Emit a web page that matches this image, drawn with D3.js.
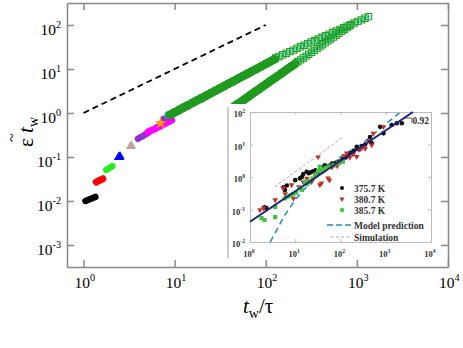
<!DOCTYPE html>
<html>
<head>
<meta charset="utf-8">
<script src="https://cdn.jsdelivr.net/npm/d3@7"></script>
<style>
   body { margin: 0; background: #fff; }
   svg { display: block; }
   text { font-family: "Liberation Serif", "Times New Roman", serif; }
</style>
</head>
<body>
<div id="chart"></div>
<script>
// main panel: t_w / tau against strain rate * t_w
let xTicks = [1, 10, 100, 1000, 10000];
let xTickExp = ["0", "1", "2", "3", "4"];
let yTicks = [1e-3, 1e-2, 1e-1, 1, 10, 100];
let yTickExp = ["-3", "-2", "-1", "0", "1", "2"];

let guideT = [1, 100];
let guideE = [1, 100];

let blackT = [1.05, 1.1, 1.15, 1.2, 1.25, 1.3, 1.35];
let blackE = [0.0100, 0.0104, 0.0108, 0.0112, 0.0116, 0.0120, 0.0124];
let redT = [1.38, 1.43, 1.48, 1.53, 1.58, 1.63];
let redE = [0.027, 0.028, 0.029, 0.030, 0.031, 0.032];
let limeT = [1.78, 1.85, 1.92, 2.0, 2.07];
let limeE = [0.051, 0.054, 0.056, 0.059, 0.062];
let blueT = [2.42, 2.48, 2.52];
let blueE = [0.098, 0.100, 0.102];
let tanT = [3.3, 3.35];
let tanE = [0.176, 0.180];
let violetT = [3.96, 4.2, 4.5, 4.8, 5.1, 7.6];
let violetE = [0.26, 0.28, 0.30, 0.33, 0.35, 0.73];
let magentaT = [5.1, 5.5, 6, 6.5, 7, 7.5, 8, 8.5, 9.3];
let magentaE = [0.37, 0.40, 0.43, 0.47, 0.51, 0.55, 0.59, 0.63, 0.69];
let orangeT = [7.0];
let orangeE = [0.59];
let cyanT = [8.4];
let cyanE = [0.9];

// green runs: filled part then open squares
let upFillT = [8.8, 9.9, 11.1, 12.4, 14.0, 15.7, 17.6, 19.8, 22.2, 24.9, 27.9, 31.3, 35.1, 39.4, 44.2, 49.6, 55.7, 62.5, 70.1, 78.7, 88.3, 99.0, 111, 125];
let upFillE = [0.90, 1.02, 1.16, 1.32, 1.49, 1.70, 1.92, 2.18, 2.48, 2.81, 3.19, 3.62, 4.11, 4.67, 5.30, 6.02, 6.83, 7.75, 8.80, 9.98, 11.3, 12.9, 14.6, 16.6];
let upOpenT = [128, 140, 153, 168, 184, 201, 220, 241, 264, 289, 316, 346, 379, 415, 454, 497, 544, 596, 652, 714, 781, 855, 936, 1025, 1122, 1228, 1345];
let upOpenE = [17.8, 19.3, 21.0, 22.9, 24.8, 26.9, 29.3, 31.9, 34.7, 37.7, 40.9, 44.4, 48.3, 52.5, 57.0, 62.0, 67.4, 73.3, 79.6, 86.5, 94.0, 102, 111, 120.7, 131, 142.6, 155];
let lowFillT = [45, 49, 53, 58.1, 63.7, 69.8, 76.5, 83.9, 92.0, 100.8, 110.5, 121.2, 132.9, 145.7, 159.7, 175.1, 192, 210.5];
let lowFillE = [1.41, 1.60, 1.78, 2.03, 2.32, 2.66, 3.04, 3.47, 3.97, 4.53, 5.18, 5.92, 6.77, 7.73, 8.84, 10.1, 11.5, 13.2];
let lowOpenT = [225, 241, 258, 277, 296, 318, 340, 365, 391, 419, 449, 481, 515, 552, 592, 634, 679, 728, 780, 836];
let lowOpenE = [14.6, 16.1, 17.8, 19.6, 21.7, 24.0, 26.5, 29.2, 32.3, 35.7, 39.4, 43.5, 48.1, 53.1, 58.7, 64.8, 71.6, 79.1, 87.3, 96.5];

// inset: experiments
let insetXTicks = [1, 10, 100, 1000, 10000];
let insetXExp = ["0", "1", "2", "3", "4"];
let insetYTicks = [0.01, 0.1, 1, 10, 100];
let insetYExp = ["-2", "-1", "0", "1", "2"];

let k375T = [2.1, 2.3, 5.5, 5.9, 6.5, 10, 12.7, 14, 15, 17.9, 20, 22, 25, 28, 32, 36, 40, 45, 55, 65, 75, 90, 110, 130, 150, 170, 200, 228, 260, 300, 350, 450, 490, 750, 890, 1350, 1750, 2270];
let k375E = [0.117, 0.11, 0.48, 0.4, 0.55, 0.8, 0.91, 1.0, 1.24, 1.45, 1.3, 1.4, 1.5, 1.6, 1.4, 1.8, 2.0, 2.3, 2.2, 2.6, 2.6, 3.0, 3.5, 4.0, 4.8, 5.5, 6.5, 8.5, 7.0, 9.0, 10, 17, 11, 35, 22, 40, 45, 45];
let k380T = [1.66, 2.0, 3.6, 5.4, 6, 8.3, 9.1, 12, 15, 18, 23, 28, 32, 35, 38, 40, 45, 53, 57, 65, 75, 85, 100, 120, 137, 160, 190, 228, 260, 300, 350, 420, 490, 530, 890];
let k380E = [0.097, 0.11, 0.196, 0.46, 0.3, 0.57, 0.22, 0.5, 0.7, 0.9, 0.72, 1.1, 4.1, 0.57, 0.65, 1.5, 1.7, 0.93, 0.8, 2.0, 2.4, 2.2, 3.0, 4.5, 5.4, 4.0, 5.0, 4.2, 7.0, 8.0, 7.5, 13, 9.6, 22, 35];
let k385T = [1.8, 2.1, 3.6, 3.6, 5.9, 6.8, 7.8, 9, 10.5, 12.7, 14, 16.4, 18, 20, 24, 28, 32, 35, 38, 42, 48, 55, 70, 90, 113];
let k385E = [0.054, 0.047, 0.058, 0.12, 0.22, 0.25, 0.27, 0.3, 0.33, 0.45, 0.4, 0.72, 0.6, 0.75, 0.9, 1.2, 1.5, 2.07, 1.8, 1.6, 1.9, 2.1, 2.3, 2.6, 2.96];
let fitT = [1, 4000];
let fitE = [0.042, 100];
let modelT = [2.8, 4, 6, 10, 20, 30, 60, 100, 300, 1000, 2000];
let modelE = [0.01, 0.025, 0.07, 0.2, 0.6, 1, 2.3, 4.2, 10.5, 43, 92];
let simT = [3.5, 115];
let simE = [0.5, 17];

function zip(xs, ys) {
   return xs.map((v, i) => [v, ys[i]]);
}

let svg = d3.select("#chart").append("svg")
   .attr("width", 463)
   .attr("height", 348);

let x = d3.scaleLog().domain([0.659, 10000]).range([67, 448]);
let y = d3.scaleLog().domain([Math.pow(10, -3.5), Math.pow(10, 2.5)]).range([267, 3]);

// frame + inward ticks on all four sides
function frame(g, sx, sy, xt, yt, len, col, w) {
   g.append("g").attr("transform", "translate(0," + sy.range()[0] + ")")
      .call(d3.axisBottom(sx).tickValues(xt).tickSize(-len).tickSizeOuter(0).tickFormat(""));
   g.append("g").attr("transform", "translate(0," + sy.range()[1] + ")")
      .call(d3.axisTop(sx).tickValues(xt).tickSize(-len).tickSizeOuter(0).tickFormat(""));
   g.append("g").attr("transform", "translate(" + sx.range()[0] + ",0)")
      .call(d3.axisLeft(sy).tickValues(yt).tickSize(-len).tickSizeOuter(0).tickFormat(""));
   g.append("g").attr("transform", "translate(" + sx.range()[1] + ",0)")
      .call(d3.axisRight(sy).tickValues(yt).tickSize(-len).tickSizeOuter(0).tickFormat(""));
   g.selectAll(".domain, .tick line").attr("stroke", col).attr("stroke-width", w);
}

function powLabel(g, px, py, exp, size, anchor, weight, col) {
   let t = g.append("text")
      .attr("x", px).attr("y", py)
      .attr("text-anchor", anchor)
      .attr("font-size", size)
      .attr("font-weight", weight)
      .attr("fill", col);
   t.append("tspan").text("10");
   t.append("tspan").attr("font-size", size * 0.66).attr("dy", -size * 0.42).text(exp);
}

// dashed guide
svg.append("path")
   .datum(zip(guideT, guideE))
   .attr("d", d3.line().x(d => x(d[0])).y(d => y(d[1])))
   .attr("fill", "none")
   .attr("stroke", "#000")
   .attr("stroke-width", 1.8)
   .attr("stroke-dasharray", "6,4");

function dots(xs, ys, col, r) {
   svg.append("g").selectAll("circle")
      .data(zip(xs, ys))
      .enter().append("circle")
      .attr("cx", d => x(d[0]))
      .attr("cy", d => y(d[1]))
      .attr("r", r)
      .attr("fill", col);
}

function syms(g, sx, sy, xs, ys, type, size, fill, stroke, rot) {
   g.append("g").selectAll("path")
      .data(zip(xs, ys))
      .enter().append("path")
      .attr("transform", d => "translate(" + sx(d[0]) + "," + sy(d[1]) + ")" + (rot ? " rotate(180)" : ""))
      .attr("d", d3.symbol().type(type).size(size))
      .attr("fill", fill)
      .attr("stroke", stroke)
      .attr("stroke-width", 1.1);
}

let lineGen = d3.line().x(d => x(d[0])).y(d => y(d[1]));

function band(xs, ys, col, w) {
   svg.append("path").datum(zip(xs, ys)).attr("d", lineGen)
      .attr("fill", "none").attr("stroke", col).attr("stroke-width", w)
      .attr("stroke-linecap", "round").attr("stroke-linejoin", "round");
}

band(blackT, blackE, "#000", 6.5);
band(redT, redE, "#ff0000", 7);
band(limeT, limeE, "#22ee22", 6.5);
syms(svg, x, y, blueT, blueE, d3.symbolTriangle, 38, "#0000ff", "none", false);
syms(svg, x, y, tanT, tanE, d3.symbolTriangle, 38, "#c8a09a", "none", false);
band(violetT.slice(0, 5), violetE.slice(0, 5), "#9030d0", 6.5);
band(magentaT, magentaE, "#ff00ff", 7);
dots(violetT.slice(5), violetE.slice(5), "#9030d0", 3.5);
syms(svg, x, y, orangeT, orangeE, d3.symbolStar, 45, "#ff9900", "none", false);
dots(cyanT, cyanE, "#22cccc", 3.5);

band(upOpenT, upOpenE, "#66dddd", 3);
band(lowOpenT, lowOpenE, "#33cccc", 3);

band(upFillT, upFillE, "#1f9a1f", 8.5);
band(lowFillT, lowFillE, "#1f9a1f", 8.5);
dots(upFillT, upFillE, "#1f9a1f", 4.3);
dots(lowFillT, lowFillE, "#1f9a1f", 4.3);
syms(svg, x, y, upOpenT, upOpenE, d3.symbolSquare, 40, "none", "#22a022", false);
syms(svg, x, y, lowOpenT, lowOpenE, d3.symbolSquare, 40, "none", "#22a022", false);

frame(svg, x, y, xTicks, yTicks, 7, "#888", 1.5);

xTicks.forEach((v, i) => powLabel(svg, x(v) - 9, 288, xTickExp[i], 15.5, "start", "normal", "#000"));
yTicks.forEach((v, i) => powLabel(svg, 61, y(v) + 10, yTickExp[i], 15.5, "end", "normal", "#000"));

// axis titles
let xl = svg.append("text").attr("x", 243).attr("y", 313).attr("font-size", 21);
xl.append("tspan").attr("font-style", "italic").text("t");
xl.append("tspan").attr("font-size", 14).attr("dy", 5).text("w");
xl.append("tspan").attr("dy", -5).text("/\u03c4");

let yg = svg.append("g").attr("transform", "translate(33,130) rotate(-90)");
let yl = yg.append("text")
   .attr("x", -17)
   .attr("font-size", 21);
yl.append("tspan").text("\u03b5 ");
yl.append("tspan").attr("font-style", "italic").text("t");
yl.append("tspan").attr("font-size", 14).attr("dy", 5).text("w");
yg.append("text").attr("x", -12).attr("y", -16).attr("font-size", 16).text("~");

// inset
let inset = svg.append("g");
inset.append("rect").attr("x", 228).attr("y", 104).attr("width", 213).attr("height", 155).attr("fill", "#fff");
inset.append("line").attr("x1", 228).attr("x2", 228).attr("y1", 107).attr("y2", 258)
   .attr("stroke", "#999").attr("stroke-width", 1);

let xi = d3.scaleLog().domain([1, 10000]).range([250, 431]);
let yi = d3.scaleLog().domain([0.01, 100]).range([242, 112]);
frame(inset, xi, yi, insetXTicks, insetYTicks, 3, "#bbb", 1);

insetXTicks.forEach((v, i) => powLabel(inset, xi(v) - 1, 257, insetXExp[i], 8.5, "middle", "bold", "#333"));
insetYTicks.forEach((v, i) => powLabel(inset, 245, yi(v) + 5, insetYExp[i], 8.5, "end", "bold", "#333"));

let lineI = d3.line().x(d => xi(d[0])).y(d => yi(d[1]));
inset.append("path").datum(zip(simT, simE)).attr("d", lineI)
   .attr("fill", "none").attr("stroke", "#aaa").attr("stroke-width", 1).attr("stroke-dasharray", "3,2");
inset.append("path").datum(zip(modelT, modelE)).attr("d", lineI)
   .attr("fill", "none").attr("stroke", "#1e8fb3").attr("stroke-width", 1.5).attr("stroke-dasharray", "6,4");

inset.append("g").selectAll("circle")
   .data(zip(k375T, k375E))
   .enter().append("circle")
   .attr("cx", d => xi(d[0]))
   .attr("cy", d => yi(d[1]))
   .attr("r", 2.3)
   .attr("fill", "#111");
syms(inset, xi, yi, k380T, k380E, d3.symbolTriangle, 14, "#c0302a", "none", true);
syms(inset, xi, yi, k385T, k385E, d3.symbolSquare, 18, "#44c044", "none", false);

inset.append("path").datum(zip(fitT, fitE)).attr("d", lineI)
   .attr("fill", "none").attr("stroke", "#1a1f7a").attr("stroke-width", 2);

// slope mark
inset.append("path")
   .attr("d", "M" + xi(2600) + "," + yi(65) + "H" + xi(3800) + "V" + yi(45))
   .attr("fill", "none").attr("stroke", "#333").attr("stroke-width", 0.8);
inset.append("text").attr("x", xi(3900)).attr("y", yi(42)).attr("font-size", 9.5)
   .attr("font-weight", "bold").attr("fill", "#333").text("0.92");

// legend
let legendNames = ["375.7 K", "380.7 K", "385.7 K", "Model prediction", "Simulation"];
let ly = [188, 199, 210, 225, 237];
let lg = inset.append("g").attr("font-size", 9.5).attr("font-weight", "bold").attr("fill", "#333");
legendNames.forEach((n, i) => {
   lg.append("text").attr("x", 354).attr("y", ly[i] + 3.5).text(n);
});
lg.append("circle").attr("cx", 342).attr("cy", ly[0]).attr("r", 2).attr("fill", "#111");
lg.append("path").attr("transform", "translate(342," + ly[1] + ") rotate(180)")
   .attr("d", d3.symbol().type(d3.symbolTriangle).size(12)).attr("fill", "#c0302a");
lg.append("path").attr("transform", "translate(342," + ly[2] + ")")
   .attr("d", d3.symbol().type(d3.symbolSquare).size(14)).attr("fill", "#44c044");
lg.append("line").attr("x1", 327).attr("x2", 351).attr("y1", ly[3]).attr("y2", ly[3])
   .attr("stroke", "#1e8fb3").attr("stroke-width", 1.5).attr("stroke-dasharray", "6,3");
lg.append("line").attr("x1", 331).attr("x2", 351).attr("y1", ly[4]).attr("y2", ly[4])
   .attr("stroke", "#aaa").attr("stroke-width", 1).attr("stroke-dasharray", "3,2");
</script>
</body>
</html>
